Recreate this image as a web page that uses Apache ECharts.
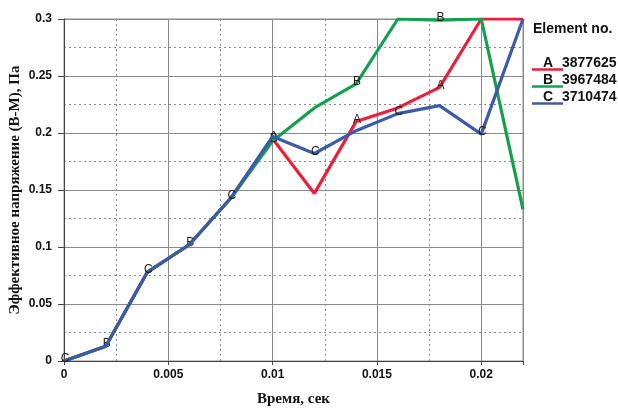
<!DOCTYPE html>
<html><head><meta charset="utf-8">
<script src="https://cdn.jsdelivr.net/npm/echarts@6/dist/echarts.min.js"></script>
<style>html,body{margin:0;padding:0;background:#fff}#c{width:618px;height:409px}</style>
</head><body><div id="c"></div>
<script>
const times = [0, 0.002, 0.004, 0.006, 0.008, 0.010, 0.012, 0.014, 0.016, 0.018, 0.020, 0.022];
const seriesNames = ['A', 'B', 'C'];
const elementNos = ['3877625', '3967484', '3710474'];
const valuesA = [0, 0.013, 0.078, 0.102, 0.143, 0.195, 0.147, 0.210, 0.222, 0.240, 0.300, 0.300];
const valuesB = [0, 0.013, 0.078, 0.102, 0.143, 0.193, 0.222, 0.243, 0.300, 0.299, 0.300, 0.133];
const valuesC = [0, 0.013, 0.078, 0.102, 0.143, 0.197, 0.182, 0.202, 0.217, 0.224, 0.199, 0.300];
const labelIdxA = [5, 7, 9];
const labelIdxB = [1, 3, 5, 7, 9];
const labelIdxC = [0, 2, 4, 6, 8, 10];
const xTicks = [0, 0.005, 0.01, 0.015, 0.02];
const yTicks = [0, 0.05, 0.1, 0.15, 0.2, 0.25, 0.3];

const colors = ['#e8213a', '#13a04c', '#3b5aa8'];
const allValues = [valuesA, valuesB, valuesC];
const allLabels = [labelIdxA, labelIdxB, labelIdxC];

const chart = echarts.init(document.getElementById('c'));
const series = [0, 1, 2].map(function (k) {
  return {
    name: seriesNames[k], type: 'line', z: 3 + k,
    symbol: 'circle', symbolSize: 0, showAllSymbol: true,
    itemStyle: { color: colors[k] },
    lineStyle: { color: colors[k], width: 3.2 },
    label: { show: false },
    data: times.map(function (t, i) {
      const item = { value: [t, allValues[k][i]] };
      if (allLabels[k].indexOf(i) >= 0) {
        item.label = { show: true, formatter: seriesNames[k], position: 'inside', offset: [1, -2],
          color: '#1a1a1a', fontSize: 12, fontFamily: 'Liberation Sans' };
      }
      return item;
    })
  };
});
const legendGraphics = [{ type: 'text', left: 533, top: 22, style: { text: 'Element no.', font: 'bold 14px "Liberation Sans"', fill: '#111' } }];
seriesNames.forEach(function (n, k) {
  const y = 56 + k * 17;
  legendGraphics.push({ type: 'text', left: 543, top: y, style: { text: n, font: 'bold 14px "Liberation Sans"', fill: '#111' } });
  legendGraphics.push({ type: 'text', left: 562, top: y, style: { text: elementNos[k], font: 'bold 14px "Liberation Sans"', fill: '#111' } });
  legendGraphics.push({ type: 'line', shape: { x1: 532, y1: y + 13.5, x2: 563, y2: y + 13.5 }, style: { stroke: colors[k], lineWidth: 2.5 } });
});

chart.setOption({
  animation: false,
  grid: { left: 64, top: 19, right: 95, bottom: 48, show: true, borderColor: '#8a8a8a', borderWidth: 1,
    outerBoundsMode: 'none', containLabel: false },
  xAxis: {
    type: 'value', min: 0, max: 0.022, interval: 0.005,
    name: 'Время, сек', nameLocation: 'middle', nameGap: 31, nameMoveOverlap: false,
    nameTextStyle: { fontFamily: 'Liberation Serif', fontWeight: 'bold', fontSize: 15, color: '#111' },
    axisLine: { show: true, lineStyle: { color: '#444', width: 1 } },
    axisTick: { show: true, length: 4, lineStyle: { color: '#444' } },
    axisLabel: { fontFamily: 'Liberation Sans', fontWeight: 'bold', fontSize: 12, color: '#111', margin: 8,
      customValues: xTicks, formatter: function (v) { return String(v); } },
    splitLine: { show: true, lineStyle: { color: '#8a8a8a', width: 1 } },
    minorTick: { show: false, splitNumber: 2 },
    minorSplitLine: { show: true, lineStyle: { color: '#8a8a8a', type: [2, 3], width: 1 } }
  },
  yAxis: {
    type: 'value', min: 0, max: 0.3, interval: 0.05,
    name: 'Эффективное напряжение (В-М), Па', nameLocation: 'middle', nameGap: 41, nameMoveOverlap: false,
    nameTextStyle: { fontFamily: 'Liberation Serif', fontWeight: 'bold', fontSize: 15, color: '#111' },
    axisLine: { show: true, lineStyle: { color: '#444', width: 1 } },
    axisTick: { show: true, length: 6, lineStyle: { color: '#444' } },
    axisLabel: { fontFamily: 'Liberation Sans', fontWeight: 'bold', fontSize: 12, color: '#111', margin: 12,
      customValues: yTicks, formatter: function (v) { return String(v); } },
    splitLine: { show: true, lineStyle: { color: '#8a8a8a', width: 1 } },
    minorTick: { show: false, splitNumber: 2 },
    minorSplitLine: { show: true, lineStyle: { color: '#8a8a8a', type: [2, 3], width: 1 } }
  },
  graphic: legendGraphics,
  series: series
});
</script></body></html>
